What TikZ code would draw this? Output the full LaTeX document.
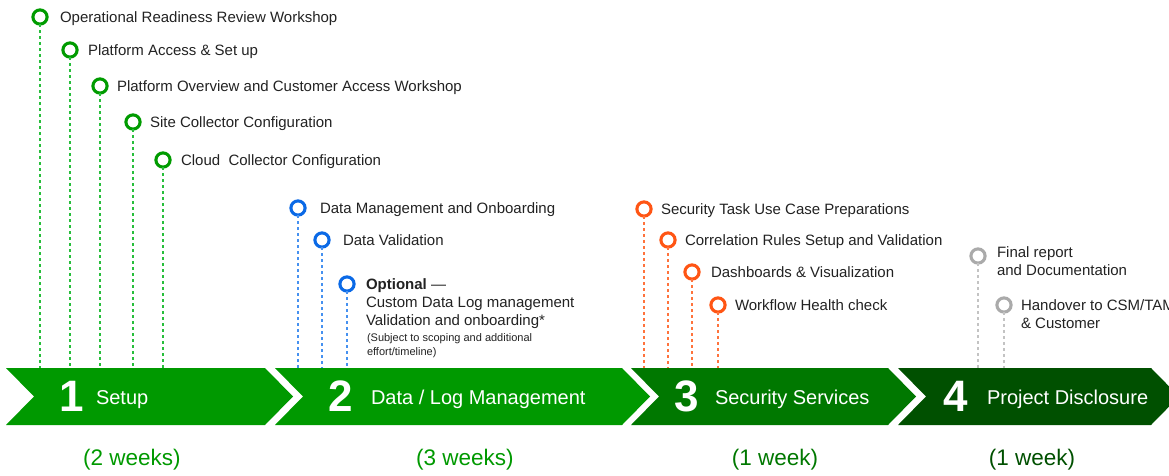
\documentclass[tikz,border=0pt]{standalone}
\usepackage{fontspec}
\setmainfont{Liberation Sans}
\definecolor{ink}{RGB}{34,34,34}
\definecolor{phaseA}{RGB}{0,153,0}
\definecolor{phaseB}{RGB}{0,120,0}
\definecolor{phaseC}{RGB}{0,80,0}
\definecolor{gcirc}{RGB}{0,155,0}
\definecolor{gdash}{RGB}{40,190,60}
\definecolor{bcirc}{RGB}{10,105,230}
\definecolor{bdash}{RGB}{70,145,240}
\definecolor{ocirc}{RGB}{255,85,20}
\definecolor{odash}{RGB}{255,115,60}
\definecolor{rcirc}{RGB}{170,170,170}
\definecolor{rdash}{RGB}{195,195,195}
\begin{document}
\begin{tikzpicture}[x=1pt,y=-1pt,
  every node/.style={inner sep=0pt, outer sep=0pt},
  dot/.style={circle, draw=#1, fill=white, line width=3.1pt, minimum size=14.2pt},
  lead/.style={draw=#1, line width=1.1pt, dash pattern=on 3pt off 3pt},
  itemtext/.style={anchor=west, text=ink, font=\fontsize{15}{18}\selectfont,
    text height=11pt, text depth=0pt},
  blocktext/.style={anchor=base west, align=left, text=ink, font=\fontsize{15}{18}\selectfont},
  notetext/.style={anchor=base west, align=left, text=ink, font=\fontsize{11}{14}\selectfont},
  num/.style={text=white, font=\fontsize{44}{44}\selectfont\bfseries},
  phase/.style={anchor=west, text=white, font=\fontsize{20}{24}\selectfont,
    text height=14.5pt, text depth=0pt},
  weeks/.style={font=\fontsize{22.5}{26}\selectfont}
]
\useasboundingbox (0,0) rectangle (1169,476);
\clip (0,0) rectangle (1169,476);

% top edge of the phase banner
\coordinate (bt) at (0,368);

% phase chevrons
\fill[phaseA] (6,368) -- (265,368) -- (293,396.5) -- (265,425) -- (6,425) -- (34,396.5) -- cycle;
\fill[phaseA] (275,368) -- (622,368) -- (650,396.5) -- (622,425) -- (275,425) -- (303,396.5) -- cycle;
\fill[phaseB] (631,368) -- (888,368) -- (916,396.5) -- (888,425) -- (631,425) -- (659,396.5) -- cycle;
\fill[phaseC] (898,368) -- (1151,368) -- (1179,396.5) -- (1151,425) -- (898,425) -- (926,396.5) -- cycle;

\node[num] (n1) at (71.5,396) {1};
\node[phase] (p1) at (96,397) {Setup};
\node[num] (n2) at (341,396) {2};
\node[phase] (p2) at (371,397) {Data / Log Management};
\node[num] (n3) at (687,396) {3};
\node[phase] (p3) at (715,397) {Security Services};
\node[num] (n4) at (956,396) {4};
\node[phase] (p4) at (987,397) {Project Disclosure};

% durations
\node[weeks, text=phaseA] (w1) at (132,460) {(2 weeks)};
\node[weeks, text=phaseA] (w2) at (465,460) {(3 weeks)};
\node[weeks, text=phaseB] (w3) at (775,460) {(1 week)};
\node[weeks, text=phaseC] (w4) at (1032,460) {(1 week)};

% phase 1 milestones
\node[dot=gcirc] (g1) at (40,17) {};
\node[dot=gcirc] (g2) at (70,50) {};
\node[dot=gcirc] (g3) at (100,86) {};
\node[dot=gcirc] (g4) at (133,122) {};
\node[dot=gcirc] (g5) at (163,160) {};
\node[itemtext] (tg1) at (60,17) {Operational Readiness Review Workshop};
\node[itemtext] (tg2) at (88,50) {Platform Access \& Set up};
\node[itemtext] (tg3) at (117,86) {Platform Overview and Customer Access Workshop};
\node[itemtext] (tg4) at (150,122) {Site Collector Configuration};
\node[itemtext] (tg5) at (181,160) {Cloud\ \ Collector Configuration};
\foreach \m in {g1,g2,g3,g4,g5} \draw[lead=gdash] (\m) -- (\m |- bt);

% phase 2 milestones
\node[dot=bcirc] (b1) at (298,208) {};
\node[dot=bcirc] (b2) at (322,240) {};
\node[dot=bcirc] (b3) at (347,284) {};
\node[itemtext] (tb1) at (320,208) {Data Management and Onboarding};
\node[itemtext] (tb2) at (343,240) {Data Validation};
% multi-line blocks sit on the baseline of their last line
\node[blocktext] (tb3) at (366,325.5) {\textbf{Optional} —\\Custom Data Log management\\Validation and onboarding*};
\node[notetext] (tb3n) at (367,355) {(Subject to scoping and additional\\effort/timeline)};
\foreach \m in {b1,b2,b3} \draw[lead=bdash] (\m) -- (\m |- bt);

% phase 3 milestones
\node[dot=ocirc] (o1) at (644,209) {};
\node[dot=ocirc] (o2) at (668,240) {};
\node[dot=ocirc] (o3) at (692,272) {};
\node[dot=ocirc] (o4) at (718,305) {};
\node[itemtext] (to1) at (661,209) {Security Task Use Case Preparations};
\node[itemtext] (to2) at (685,240) {Correlation Rules Setup and Validation};
\node[itemtext] (to3) at (711,272) {Dashboards \& Visualization};
\node[itemtext] (to4) at (735,305) {Workflow Health check};
\foreach \m in {o1,o2,o3,o4} \draw[lead=odash] (\m) -- (\m |- bt);

% phase 4 milestones
\node[dot=rcirc] (r1) at (978,256) {};
\node[dot=rcirc] (r2) at (1004,305) {};
\node[blocktext] (tr1) at (997,275.5) {Final report\\and Documentation};
\node[blocktext] (tr2) at (1021,328) {Handover to CSM/TAM\\\& Customer};
\foreach \m in {r1,r2} \draw[lead=rdash] (\m) -- (\m |- bt);
\end{tikzpicture}
\end{document}
